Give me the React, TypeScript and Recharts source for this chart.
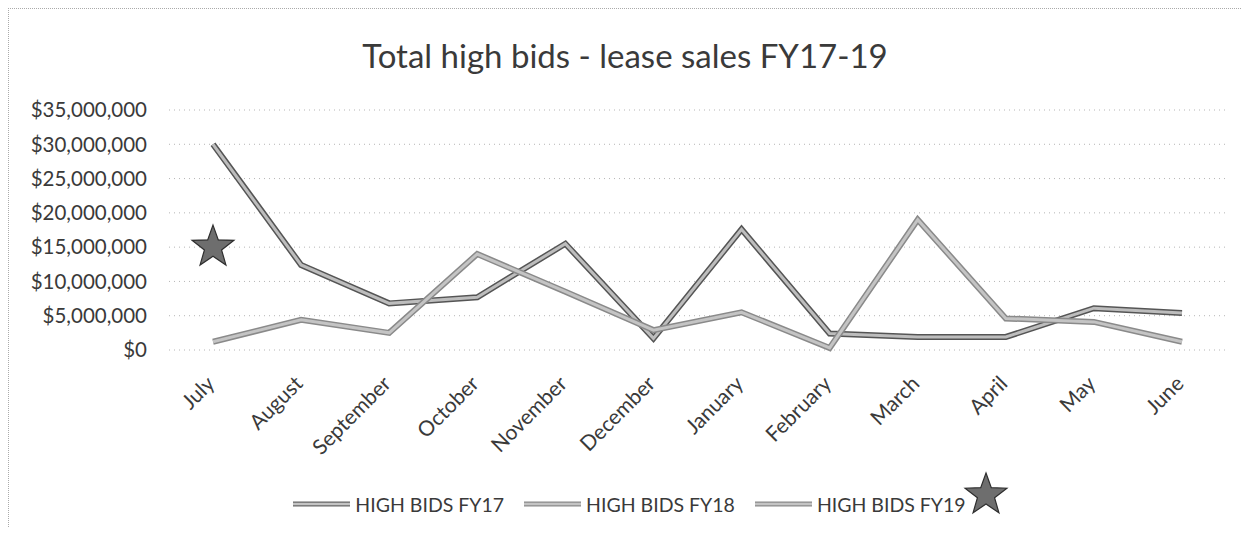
import React from "react";
import { LineChart, Line, XAxis, YAxis, CartesianGrid, Legend } from "recharts";

const months = [
  "July", "August", "September", "October", "November", "December",
  "January", "February", "March", "April", "May", "June",
];

// values in dollars
const fy17 = [30000000, 12400000, 6800000, 7700000, 15500000, 1700000, 17600000, 2400000, 1900000, 1900000, 6100000, 5400000];
const fy18 = [1200000, 4400000, 2500000, 14000000, 8500000, 2900000, 5500000, 300000, 19000000, 4600000, 4100000, 1200000];
const fy19 = [15000000, null, null, null, null, null, null, null, null, null, null, null];

const yTicks = [0, 5000000, 10000000, 15000000, 20000000, 25000000, 30000000, 35000000];
const seriesNames = ["HIGH BIDS FY17", "HIGH BIDS FY18", "HIGH BIDS FY19"];

const data = months.map((m, i) => ({ month: m, fy17: fy17[i], fy18: fy18[i], fy19: fy19[i] }));

const FONT = "Lato, 'Open Sans', sans-serif";
const TEXT = "#3a3a3a";

function starPoints(cx: number, cy: number, r: number, ri: number) {
  const pts: string[] = [];
  for (let k = 0; k < 10; k++) {
    const rad = k % 2 === 0 ? r : ri;
    const a = -Math.PI / 2 + (k * Math.PI) / 5;
    pts.push(`${cx + rad * Math.cos(a)},${cy + rad * Math.sin(a)}`);
  }
  return pts.join(" ");
}

const StarDot = (props: any) => {
  const { cx, cy, value, index } = props;
  if (value == null || cx == null) return <g key={`s-${index}`} />;
  return (
    <polygon
      key={`s-${index}`}
      points={starPoints(cx, cy, 22, 9)}
      fill="#6e6e6e"
      stroke="#2e2e2e"
      strokeWidth={1.2}
    />
  );
};

const MonthTick = ({ x, y, payload }: any) => (
  <text
    transform={`translate(${x + 3},${y + 27}) rotate(-45)`}
    textAnchor="end"
    fill={TEXT}
    fontSize={21}
    fontFamily={FONT}
  >
    {payload.value}
  </text>
);

const money = (v: number) => "$" + v.toLocaleString("en-US");

const LegendSample = ({ dark }: { dark: string }) => (
  <svg width={57} height={8} style={{ marginRight: 5 }}>
    <line x1={0} y1={4} x2={57} y2={4} stroke={dark} strokeWidth={5} />
    <line x1={0} y1={4} x2={57} y2={4} stroke="#c4c4c4" strokeWidth={2.5} />
  </svg>
);

const renderLegend = () => (
  <div
    style={{
      height: 30,
      display: "flex",
      justifyContent: "center",
      alignItems: "center",
      paddingLeft: 24,
      fontFamily: FONT,
      fontSize: 19.5,
      color: TEXT,
    }}
  >
    {seriesNames.map((n, i) => (
      <div key={n} style={{ display: "flex", alignItems: "center", marginLeft: i ? 20 : 0, position: "relative" }}>
        <LegendSample dark={i === 0 ? "#666" : "#8a8a8a"} />
        <span>{n}</span>
        {i === 2 && (
          <svg width={48} height={48} style={{ position: "absolute", right: -44, top: -22 }}>
            <polygon points={starPoints(24, 24, 22, 9)} fill="#6e6e6e" stroke="#2e2e2e" strokeWidth={1.2} />
          </svg>
        )}
      </div>
    ))}
  </div>
);

export default function App() {
  return (
    <div
      style={{
        position: "relative",
        width: 1233,
        height: 519,
        borderLeft: "1px dotted #aaa",
        borderTop: "1px dotted #aaa",
        boxSizing: "border-box",
        background: "#fff",
      }}
    >
      <div
        style={{
          position: "absolute",
          top: 26,
          left: 0,
          width: "100%",
          textAlign: "center",
          fontFamily: FONT,
          fontSize: 33,
          color: TEXT,
          lineHeight: "normal",
        }}
      >
        Total high bids - lease sales FY17-19
      </div>
      <LineChart
        width={1232}
        height={518}
        data={data}
        margin={{ top: 101, right: 15, left: 0, bottom: 8 }}
        style={{ position: "absolute", top: 0, left: 0 }}
      >
        <CartesianGrid horizontal vertical={false} stroke="#b5b5b5" strokeDasharray="1 4" />
        <XAxis
          dataKey="month"
          axisLine={false}
          tickLine={false}
          interval={0}
          height={139}
          padding={{ left: 44, right: 44 }}
          tick={<MonthTick />}
        />
        <YAxis
          domain={[0, 35000000]}
          ticks={yTicks}
          tickFormatter={money}
          axisLine={false}
          tickLine={false}
          width={160}
          tickMargin={16}
          tick={{ fill: TEXT, fontSize: 20.5, fontFamily: FONT }}
        />
        <Legend verticalAlign="bottom" content={renderLegend} />
        <Line dataKey="fy17" stroke="#555" strokeWidth={6} dot={false} isAnimationActive={false} legendType="none" />
        <Line dataKey="fy17" name={seriesNames[0]} stroke="#bdbdbd" strokeWidth={3} dot={false} isAnimationActive={false} />
        <Line dataKey="fy18" stroke="#8a8a8a" strokeWidth={6} dot={false} isAnimationActive={false} legendType="none" />
        <Line dataKey="fy18" name={seriesNames[1]} stroke="#c4c4c4" strokeWidth={3} dot={false} isAnimationActive={false} />
        <Line dataKey="fy19" name={seriesNames[2]} stroke="#bdbdbd" strokeWidth={3} dot={<StarDot />} isAnimationActive={false} />
      </LineChart>
    </div>
  );
}
